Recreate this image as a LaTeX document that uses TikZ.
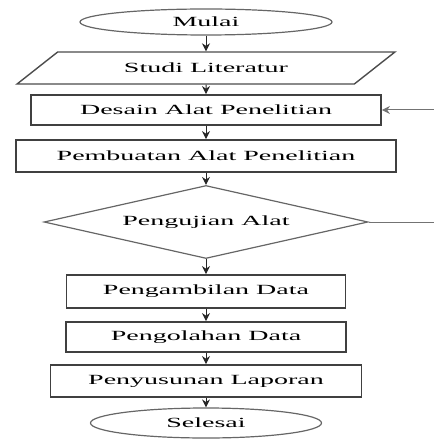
\documentclass[tikz,border=0pt]{standalone}
\usepackage{fontspec}
\setmainfont{Liberation Serif}
\usepackage{graphicx}
\usetikzlibrary{shapes.geometric,arrows.meta}

\newcommand{\wtext}[1]{\scalebox{2}[1]{#1}}

\tikzset{
    lbl/.style={font=\fontsize{7}{8}\selectfont, inner sep=0pt},
    proc/.style={lbl, draw=black!75, line width=0.9pt, rectangle},
    term/.style={lbl, draw=black!60, line width=0.6pt, ellipse},
    flow/.style={-{Stealth[length=4pt,width=4pt]}, black!85, line width=0.5pt}
}

\begin{document}
\begin{tikzpicture}[x=0.5pt, y=-0.5pt]
        \useasboundingbox (0,0) rectangle (433,443);

        % Start and literature
        \node[term, minimum width=126pt, minimum height=13pt] (mulai) at (206,22) {\wtext{Mulai}};
        \node[lbl, draw=black!70, line width=0.7pt, trapezium, trapezium left angle=23.7,
              trapezium right angle=156.3, trapezium stretches=true,
              minimum width=189pt, minimum height=16pt] (lit) at (206,68) {\wtext{Studi Literatur}};

        % Design and build
        \node[proc, minimum width=175pt, minimum height=15pt] (desain) at (206,110) {\wtext{Desain Alat Penelitian}};
        \node[proc, minimum width=190pt, minimum height=16pt] (buat) at (206,156) {\wtext{Pembuatan Alat Penelitian}};

        % Test
        \node[lbl, draw=black!60, line width=0.6pt, diamond, shape aspect=4.44,
              minimum width=162pt, minimum height=36.5pt] (uji) at (206,222) {\wtext{Pengujian Alat}};

        % Data and report
        \node[proc, minimum width=139.5pt, minimum height=16.5pt] (ambil) at (206,291.5) {\wtext{Pengambilan Data}};
        \node[proc, minimum width=140pt, minimum height=15pt] (olah) at (206,337) {\wtext{Pengolahan Data}};
        \node[proc, minimum width=155.5pt, minimum height=16pt] (susun) at (206,381) {\wtext{Penyusunan Laporan}};
        \node[term, minimum width=115.5pt, minimum height=15pt] (selesai) at (206,423) {\wtext{Selesai}};

        \draw[flow] (mulai) -- (lit);
        \draw[flow] (lit) -- (desain);
        \draw[flow] (desain) -- (buat);
        \draw[flow] (buat) -- (uji);
        \draw[flow] (uji) -- (ambil);
        \draw[flow] (ambil) -- (olah);
        \draw[flow] (olah) -- (susun);
        \draw[flow] (susun) -- (selesai);

        % Loop back to design
        \coordinate (back1) at (440,222);
        \coordinate (back2) at (440,110);
        \draw[flow, black!55] (uji.east) -- (back1) -- (back2) -- (desain.east);
    \end{tikzpicture}
\end{document}
